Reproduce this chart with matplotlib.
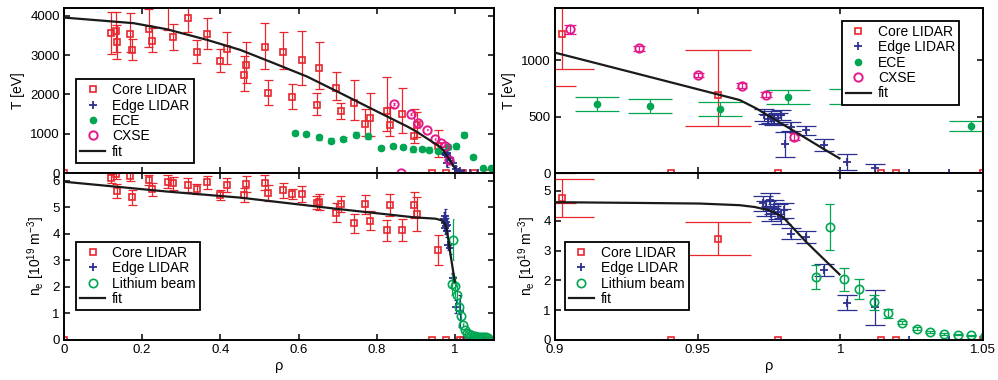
import numpy as np
import matplotlib
matplotlib.use("Agg")
import matplotlib.pyplot as plt
from matplotlib.lines import Line2D

plt.rcParams['font.family'] = ['Liberation Sans', 'DejaVu Sans']

# ---- Core LIDAR (Te and ne share the radial positions) ----
rho_core = [0.1205, 0.1333, 0.135, 0.169, 0.175, 0.217, 0.226, 0.265, 0.28, 0.316,
            0.34, 0.367, 0.4, 0.417, 0.4615, 0.4667, 0.514, 0.522, 0.561, 0.584,
            0.608, 0.646, 0.653, 0.697, 0.708, 0.742, 0.771, 0.783, 0.825, 0.833,
            0.865, 0.8957, 0.9023, 0.9571]
T_core = [3560, 3620, 3340, 3540, 3140, 3670, 3370, 4400, 3450, 3950,
          3085, 3540, 2850, 3150, 2490, 2750, 3200, 2030, 3085, 1930,
          2870, 1735, 2670, 2170, 1570, 1770, 1260, 1390, 1590, 1230,
          1490, 930, 1227, 690]
T_core_lo = [3040, 3080, 2900, 3080, 2870, 3200, 3070, 3640, 3140, 3590,
             2810, 3150, 2570, 2770, 2090, 2300, 2640, 1720, 2660, 1640,
             2250, 1480, 2130, 1850, 1380, 1340, 930, 950, 1080, 950,
             1030, 770, 918, 416]
T_core_hi = [4100, 4100, 3780, 4070, 3400, 4180, 3680, 5100, 3800, 4300,
             3390, 3940, 3150, 3580, 2990, 3330, 3820, 2380, 3580, 2260,
             3620, 2030, 3340, 2560, 1780, 2370, 1630, 2030, 2450, 1690,
             2170, 1620, 1560, 1088]
ne_core = [6.10, 6.26, 5.63, 6.19, 5.38, 6.04, 5.69, 5.97, 5.91, 5.85,
           5.69, 5.95, 5.47, 5.85, 5.47, 5.89, 5.94, 5.56, 5.64, 5.51,
           5.51, 5.18, 5.22, 4.80, 5.12, 4.40, 5.12, 4.50, 4.14, 5.09,
           4.15, 5.09, 4.76, 3.40]
ne_core_err = [0.17, 0.2, 0.27, 0.2, 0.27, 0.2, 0.25, 0.25, 0.25, 0.25,
               0.2, 0.25, 0.2, 0.25, 0.25, 0.3, 0.3, 0.3, 0.3, 0.2,
               0.3, 0.25, 0.3, 0.35, 0.3, 0.35, 0.35, 0.35, 0.4, 0.4,
               0.4, 0.5, 0.64, 0.56]
rho_core_zero = [0.0, 0.9408, 0.978, 1.0142, 1.0195, 1.05, 1.084]

# ---- Edge LIDAR ----
rho_edge_T = [0.9734, 0.9746, 0.9758, 0.9769, 0.9781, 0.9793, 0.9807, 0.9828,
              0.988, 0.9944, 1.0023, 1.0122, 1.0241, 1.038, 1.06, 1.075]
T_edge = [513, 478, 498, 469, 484, 513, 254, 410, 380, 248, 100, 41, 0, 0, 0, 0]
T_edge_err = [50, 45, 55, 45, 50, 45, 110, 40, 40, 55, 70, 40, 0, 0, 0, 0]
rho_edge_ne = [0.9728, 0.974, 0.9752, 0.9758, 0.9769, 0.9781, 0.9793, 0.9804,
               0.9828, 0.988, 0.9944, 1.0023, 1.0122, 1.0241, 1.038, 1.06, 1.075]
ne_edge = [4.58, 4.41, 4.69, 4.24, 4.46, 4.30, 4.13, 4.35,
           3.57, 3.46, 2.34, 1.25, 1.09, 0, 0, 0, 0]
ne_edge_err = [0.25, 0.25, 0.25, 0.25, 0.25, 0.25, 0.25, 0.25,
               0.18, 0.2, 0.2, 0.25, 0.6, 0, 0, 0, 0]

# ---- ECE ----
rho_ece = [0.59, 0.62, 0.652, 0.682, 0.715, 0.746, 0.778, 0.81, 0.841, 0.866,
           0.892, 0.9146, 0.9332, 0.9577, 0.9816, 1.0037, 1.022, 1.0457, 1.071, 1.092]
T_ece = [1020, 990, 905, 820, 865, 975, 930, 630, 675, 660,
         600, 611, 593, 566, 673, 680, 975, 416, 120, 120]
T_ece_err = [60, 60, 60, 60, 60, 60, 60, 50, 50, 50,
             60, 60, 60, 60, 65, 65, 60, 45, 20, 20]

# ---- CXSE ----
rho_cx = [0.844, 0.863, 0.887, 0.9052, 0.9295, 0.9502, 0.9654, 0.974, 0.9839]
T_cx = [1758, 0, 1495, 1271, 1103, 867, 773, 693, 321]
T_cx_err = [35, 0, 30, 40, 20, 20, 20, 20, 30]

# ---- Lithium beam ----
rho_li = [0.9913, 0.9962, 1.0014, 1.0066, 1.0117, 1.0168, 1.0216, 1.0267, 1.0315, 1.0364,
          1.0412, 1.0459, 1.0507, 1.0555, 1.0603, 1.0651, 1.0699, 1.0747, 1.0795, 1.0843]
ne_li = [2.10, 3.79, 2.03, 1.71, 1.26, 0.89, 0.58, 0.38, 0.27, 0.21,
         0.18, 0.16, 0.14, 0.13, 0.12, 0.11, 0.11, 0.10, 0.10, 0.09]
ne_li_err = [0.40, 0.76, 0.39, 0.35, 0.25, 0.15, 0.06, 0.04, 0.03, 0.03,
             0.02, 0.02, 0.02, 0.02, 0.02, 0.02, 0.02, 0.02, 0.02, 0.02]

# ---- fits ----
rho_fit_T = [0, 0.178, 0.263, 0.366, 0.451, 0.537, 0.622, 0.708, 0.793, 0.879,
             0.9, 0.9274, 0.9647, 0.9705, 0.9763, 0.9822, 0.988, 0.9938, 0.9997]
T_fit = [3957, 3814, 3660, 3389, 3134, 2795, 2454, 2030, 1605, 1180,
         1065, 888, 646, 572, 484, 395, 307, 218, 130]
rho_fit_ne = [0, 0.263, 0.451, 0.708, 0.9, 0.93, 0.9507, 0.9647, 0.9699, 0.9752,
              0.9798, 0.988, 0.9997]
ne_fit = [5.97, 5.6, 5.37, 4.93, 4.62, 4.595, 4.575, 4.52, 4.46, 4.35,
          4.13, 3.29, 2.20]

red = '#e8262d'
blue = '#2b2f8f'
green = '#00a651'
pink = '#e3198c'


def errbars(ax, x, lo, hi, w, color, lw=0.9):
    x = np.asarray(x, float)
    ax.vlines(x, lo, hi, colors=color, lw=lw)
    ax.hlines(lo, x - w, x + w, colors=color, lw=lw)
    ax.hlines(hi, x - w, x + w, colors=color, lw=lw)


def draw_T(ax):
    z = np.zeros(len(rho_core_zero))
    errbars(ax, rho_core + rho_core_zero, T_core_lo + list(z), T_core_hi + list(z), 0.0115, red)
    ax.plot(rho_core + rho_core_zero, T_core + list(z), 's', mfc='none', mec=red, ms=5, mew=1.2)
    te, ee = np.array(T_edge), np.array(T_edge_err)
    errbars(ax, rho_edge_T, te - ee, te + ee, 0.0035, blue)
    ax.plot(rho_edge_T, T_edge, '+', color=blue, ms=5.5, mew=1.3)
    tc, ec = np.array(T_ece), np.array(T_ece_err)
    errbars(ax, rho_ece, tc - ec, tc + ec, 0.0077, green)
    ax.plot(rho_ece, T_ece, 'o', color=green, ms=4.5)
    tx, ex = np.array(T_cx), np.array(T_cx_err)
    errbars(ax, rho_cx, tx - ex, tx + ex, 0.002, pink)
    ax.plot(rho_cx, T_cx, 'o', mfc='none', mec=pink, ms=6, mew=1.4)
    ax.plot(rho_fit_T, T_fit, '-', color='#1a1a1a', lw=1.6, zorder=5)


def draw_ne(ax):
    z = np.zeros(len(rho_core_zero))
    nc, ec = np.array(ne_core), np.array(ne_core_err)
    errbars(ax, rho_core + rho_core_zero, list(nc - ec) + list(z), list(nc + ec) + list(z), 0.0115, red)
    ax.plot(rho_core + rho_core_zero, ne_core + list(z), 's', mfc='none', mec=red, ms=5, mew=1.2)
    ne, ee = np.array(ne_edge), np.array(ne_edge_err)
    errbars(ax, rho_edge_ne, ne - ee, ne + ee, 0.0035, blue)
    ax.plot(rho_edge_ne, ne_edge, '+', color=blue, ms=5.5, mew=1.3)
    nl, el = np.array(ne_li), np.array(ne_li_err)
    errbars(ax, rho_li, nl - el, nl + el, 0.0017, green)
    ax.plot(rho_li, ne_li, 'o', mfc='none', mec=green, ms=6, mew=1.2)
    ax.plot(rho_fit_ne, ne_fit, '-', color='#1a1a1a', lw=1.6, zorder=5)


def style(ax):
    ax.tick_params(direction='in', top=True, right=True, length=4.5, width=1.1,
                   labelsize=9.5, pad=3)
    for s in ax.spines.values():
        s.set_linewidth(1.4)


fig = plt.figure(figsize=(9.98, 3.8), dpi=100)
ax_tl = fig.add_axes([0.0641, 0.5447, 0.4309, 0.4342])
ax_bl = fig.add_axes([0.0641, 0.1053, 0.4309, 0.4395])
ax_tr = fig.add_axes([0.5561, 0.5447, 0.4289, 0.4342])
ax_br = fig.add_axes([0.5561, 0.1053, 0.4289, 0.4395])

for ax in (ax_tl, ax_tr):
    draw_T(ax)
for ax in (ax_bl, ax_br):
    draw_ne(ax)

xt_left = [0, 0.2, 0.4, 0.6, 0.8, 1]
xt_left_lab = ['0', '0.2', '0.4', '0.6', '0.8', '1']
xt_right = [0.9, 0.95, 1.0, 1.05]
xt_right_lab = ['0.9', '0.95', '1', '1.05']

ax_tl.set_xlim(0, 1.1)
ax_tl.set_ylim(0, 4200)
ax_tl.set_yticks([0, 1000, 2000, 3000, 4000])
ax_tl.set_xticks(xt_left)
ax_tl.set_xticklabels([])
ax_bl.set_xlim(0, 1.1)
ax_bl.set_ylim(0, 6.3)
ax_bl.set_yticks([0, 1, 2, 3, 4, 5, 6])
ax_bl.set_xticks(xt_left)
ax_bl.set_xticklabels(xt_left_lab)

ax_tr.set_xlim(0.9, 1.05)
ax_tr.set_ylim(0, 1460)
ax_tr.set_yticks([0, 500, 1000])
ax_tr.set_xticks(xt_right)
ax_tr.set_xticklabels([])
ax_br.set_xlim(0.9, 1.05)
ax_br.set_ylim(0, 5.6)
ax_br.set_yticks([0, 1, 2, 3, 4, 5])
ax_br.set_xticks(xt_right)
ax_br.set_xticklabels(xt_right_lab)

for ax in (ax_tl, ax_tr):
    ax.set_ylabel('T [eV]', fontsize=10)
for ax in (ax_bl, ax_br):
    ax.set_ylabel(r'n$_\mathregular{e}$ [10$^\mathregular{19}$ m$^\mathregular{-3}$]', fontsize=10)
    ax.set_xlabel('ρ', fontsize=10.5, labelpad=2)

for ax in (ax_tl, ax_bl, ax_tr, ax_br):
    style(ax)

h_core = Line2D([], [], ls='none', marker='s', mfc='none', mec=red, ms=5, mew=1.2)
h_edge = Line2D([], [], ls='none', marker='+', color=blue, ms=5.5, mew=1.3)
h_ece = Line2D([], [], ls='none', marker='o', color=green, ms=4.5)
h_cx = Line2D([], [], ls='none', marker='o', mfc='none', mec=pink, ms=6, mew=1.4)
h_li = Line2D([], [], ls='none', marker='o', mfc='none', mec=green, ms=6, mew=1.2)
h_fit = Line2D([], [], color='#1a1a1a', lw=1.6)

leg_kw = dict(loc='upper left', fontsize=10, frameon=True, fancybox=False,
              edgecolor='black', framealpha=1, handlelength=1.8, handletextpad=0.5,
              labelspacing=0.1, borderpad=0.3, borderaxespad=0)

T_labels = ['Core LIDAR', 'Edge LIDAR', 'ECE', 'CXSE', 'fit']
ne_labels = ['Core LIDAR', 'Edge LIDAR', 'Lithium beam', 'fit']

for ax, anchor in ((ax_tl, (0.028, 0.570)), (ax_tr, (0.670, 0.923))):
    lg = ax.legend([h_core, h_edge, h_ece, h_cx, h_fit], T_labels,
                   bbox_to_anchor=anchor, **leg_kw)
    lg.get_frame().set_linewidth(1.3)
    lg.set_zorder(10)
for ax, anchor in ((ax_bl, (0.028, 0.589)), (ax_br, (0.023, 0.589))):
    lg = ax.legend([h_core, h_edge, h_li, h_fit], ne_labels,
                   bbox_to_anchor=anchor, **leg_kw)
    lg.get_frame().set_linewidth(1.3)
    lg.set_zorder(10)

fig.savefig('out.png', dpi=100)
